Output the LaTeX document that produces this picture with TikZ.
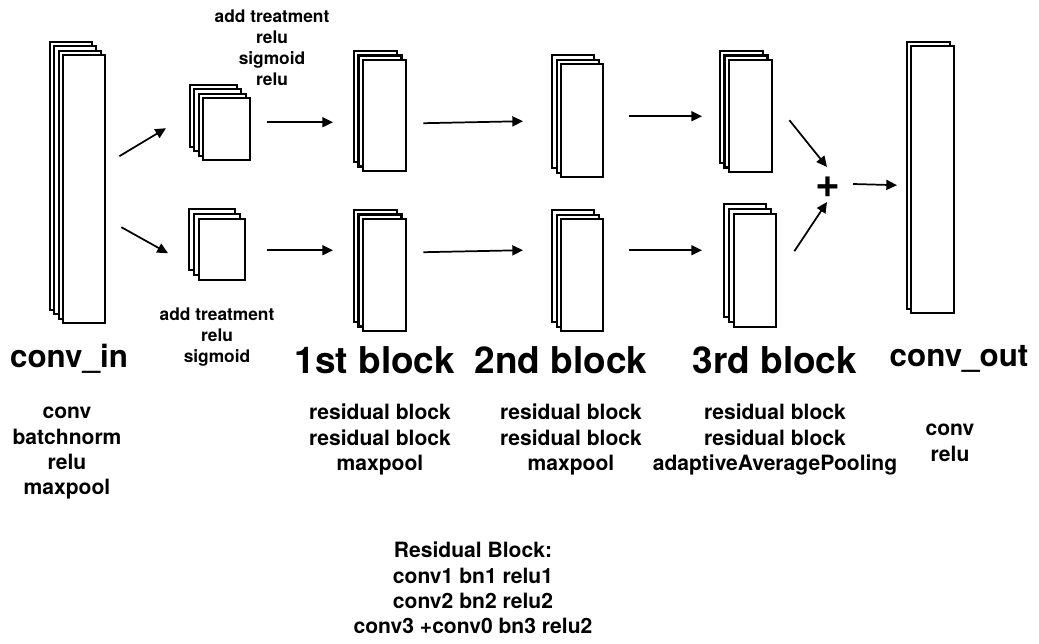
\documentclass[tikz,border=0pt]{standalone}
\usepackage{fontspec}
\setmainfont{TeX Gyre Heros}
\usetikzlibrary{arrows.meta,calc}

\newcommand{\layerstack}[7]{%
	\foreach \k in {#6,...,1}
		\node[sheet,minimum width=#4*0.75pt,minimum height=#5*0.75pt] (#1-\k) at ({#2-\k*#7},{#3-\k*#7}) {};
	\node[sheet,minimum width=#4*0.75pt,minimum height=#5*0.75pt] (#1) at (#2,#3) {};
}

\begin{document}
\begin{tikzpicture}[x=0.75pt,y=-0.75pt,>={Triangle[length=8pt,width=7.5pt]},
		sheet/.style={draw,fill=white,line width=1.8pt,inner sep=0pt,anchor=north west},
		arr/.style={->,line width=1.3pt},
		big/.style={font=\fontsize{27.7}{30}\selectfont\bfseries,inner sep=0pt,anchor=base},
		mid/.style={font=\fontsize{23.5}{26}\selectfont\bfseries,inner sep=0pt,anchor=base},
		desc/.style={font=\fontsize{15.8}{19}\selectfont\bfseries,align=center,inner sep=0pt,anchor=north},
		small/.style={font=\fontsize{13}{15.75}\selectfont\bfseries,align=center,inner sep=0pt,anchor=north}]
		\useasboundingbox (0,0) rectangle (1039,643);
		\layerstack{in}{62}{54}{42}{268}{3}{4.5}
		\layerstack{tt}{202}{97}{47}{62}{3}{4.5}
		\layerstack{tb}{198}{218}{46}{61}{2}{5}
		\layerstack{b1t}{362}{59}{43}{111}{2}{4.75}
		\layerstack{b1b}{362}{218}{43}{112}{2}{4.75}
		\layerstack{b2t}{560}{63}{42}{113}{2}{4.5}
		\layerstack{b2b}{560}{218}{42}{112}{2}{4.5}
		\layerstack{b3t}{728}{59}{43}{112}{2}{4.75}
		\layerstack{b3b}{733}{213}{42}{113}{2}{5}
		\layerstack{out}{910}{45}{43}{267}{1}{4}
		\node[font=\fontsize{32}{32}\selectfont\bfseries,inner sep=0pt] (plus) at (828,187) {+};
		\draw[arr] ($(in.east)+(13,-33)$) -- ($(tt.west)+(-36,-1)$);
		\draw[arr] ($(in.east)+(15,38)$) -- ($(tb.west)+(-30,3.5)$);
		\draw[arr] ($(tt.east)+(16,-7)$) -- ($(b1t.west)+(-29,6.5)$);
		\draw[arr] ($(tb.east)+(21,0.5)$) -- ($(b1b.west)+(-29,-25)$);
		\draw[arr] ($(b1t.east)+(16,7.5)$) -- ($(b2t.west)+(-37,0.5)$);
		\draw[arr] ($(b1b.east)+(16,-23)$) -- ($(b2b.west)+(-37,-25)$);
		\draw[arr] ($(b2t.east)+(25,-4.5)$) -- ($(b3t.west)+(-26,0)$);
		\draw[arr] ($(b2b.east)+(25,-25)$) -- ($(b3b.west)+(-31,-20.5)$);
		\draw[arr] ($(b3t.east)+(16,4)$) -- ($(plus)+(-1,-20)$);
		\draw[arr] ($(b3b.east)+(17,-19.5)$) -- ($(plus)+(-1,15)$);
		\draw[arr] ($(plus)+(25,-3)$) -- ($(out.west)+(-13,5.5)$);
		\node[small] (ttlbl) at (272,10) {add treatment\\relu\\sigmoid\\relu};
		\node[small] (tblbl) at (217,308) {add treatment\\relu\\sigmoid};
		\node[mid] (inlbl) at (69,367) {conv\_in};
		\node[big] (b1lbl) at (375,373) {1st block};
		\node[big] (b2lbl) at (561,373) {2nd block};
		\node[big] (b3lbl) at (775,373) {3rd block};
		\node[mid] (outlbl) at (959,366) {conv\_out};
		\node[desc] (indesc) at (67,407) {conv\\batchnorm\\relu\\maxpool};
		\node[desc] (b1desc) at (380,404) {residual block\\residual block\\maxpool};
		\node[desc] (b2desc) at (571,404) {residual block\\residual block\\maxpool};
		\node[desc] (b3desc) at (775,404) {residual block\\residual block\\adaptiveAveragePooling};
		\node[desc] (outdesc) at (950,424) {conv\\relu};
		\node[desc] (resdesc) at (473,542) {Residual Block:\\conv1 bn1 relu1\\conv2 bn2 relu2\\conv3 +conv0 bn3 relu2};
\end{tikzpicture}
\end{document}
